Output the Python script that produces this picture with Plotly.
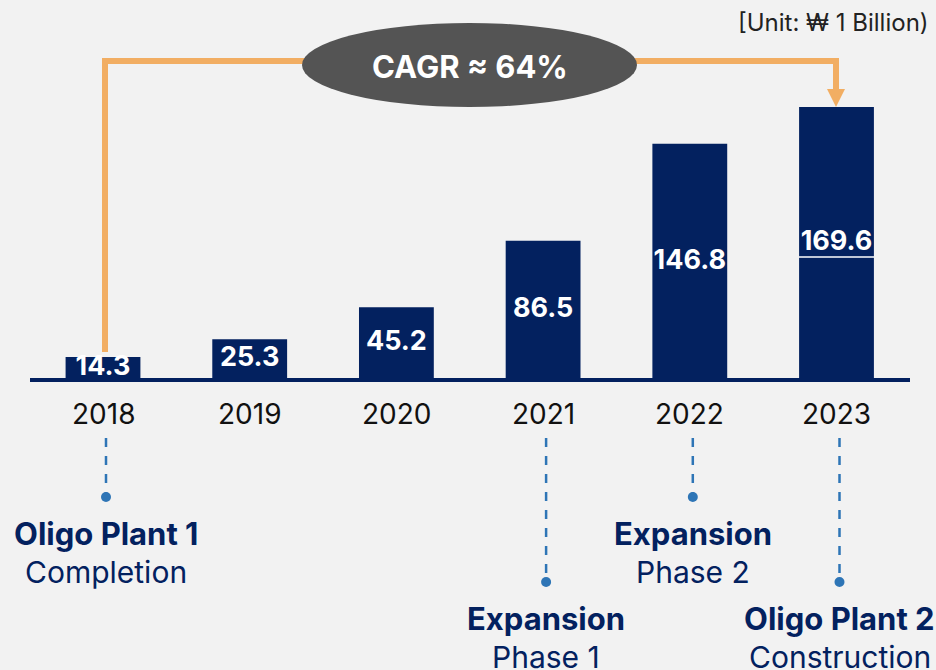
import plotly.graph_objects as go

# ---------------------------------------------------------------------------
# data
years = ["2018", "2019", "2020", "2021", "2022", "2023"]
sales = [14.3, 25.3, 45.2, 86.5, 146.8, 169.6]
cagr_label = "CAGR ≈ 64%"
unit_label = "[Unit: ₩ 1 Billion)"

milestone_year = ["2018", "2021", "2022", "2023"]
milestone_title = ["Oligo Plant 1", "Expansion", "Expansion", "Oligo Plant 2"]
milestone_sub = ["Completion", "Phase 1", "Phase 2", "Construction"]
milestone_row = [0, 1, 0, 1]   # 0 = upper row, 1 = lower row

# ---------------------------------------------------------------------------
W, H = 936, 670
NAVY = "#03215f"
ORANGE = "#f2ae63"
BLUE = "#2e75b6"
BG = "#f2f2f2"
FONT = "Inter"
STEP = 146.7   # pixels between two year slots

def px(x):   # pixel -> paper x
    return x / W

def py(y):   # pixel -> paper y
    return 1 - y / H

xs = list(range(len(years)))

fig = go.Figure()
fig.add_trace(go.Bar(
    x=xs, y=sales, width=0.51,
    marker=dict(color=NAVY, line=dict(width=0)),
    hoverinfo="skip",
))
# values in the middle of the bars
fig.add_trace(go.Scatter(
    x=xs, y=[v / 2 for v in sales], mode="text",
    text=[f"{v:.1f}" for v in sales],
    textfont=dict(family=FONT, size=27, color="white", weight="bold"),
    hoverinfo="skip",
))

shapes = []
# baseline
shapes.append(dict(type="line", xref="paper", yref="y", x0=px(30), x1=px(910), y0=0, y1=0,
                   line=dict(color=NAVY, width=4)))
# orange CAGR bracket
shapes.append(dict(type="path", xref="paper", yref="paper",
                   path=f"M {px(105)} {py(352)} L {px(105)} {py(61)} L {px(836)} {py(61)} L {px(836)} {py(92)}",
                   line=dict(color=ORANGE, width=6)))
shapes.append(dict(type="path", xref="paper", yref="paper",
                   path=f"M {px(827)} {py(89)} L {px(845)} {py(89)} L {px(836)} {py(107)} Z",
                   fillcolor=ORANGE, line=dict(width=0)))
shapes.append(dict(type="circle", xref="paper", yref="paper",
                   x0=px(302), x1=px(637), y0=py(107), y1=py(23),
                   fillcolor="#545454", line=dict(width=0)))
# thin white line across the 2023 bar
shapes.append(dict(type="line", xref="paper", yref="paper", x0=px(799), x1=px(874),
                   y0=py(257), y1=py(257), line=dict(color="white", width=1.5)))

def label(x, y, text, size, color, xref="x", xanchor="center"):
    return dict(x=x, y=y, xref=xref, yref="paper", text=text, showarrow=False,
                xanchor=xanchor, yanchor="middle",
                font=dict(family=FONT, size=size, color=color))

annotations = []
for i, yr in enumerate(years):
    annotations.append(label(i, py(414), yr, 28, "#111111"))

for yr, t, s, r in zip(milestone_year, milestone_title, milestone_sub, milestone_row):
    i = years.index(yr) + 3 / STEP
    dot_y = 497 if r == 0 else 582
    shapes.append(dict(type="line", xref="x", yref="paper", x0=i, x1=i,
                       y0=py(438), y1=py(dot_y - 4),
                       line=dict(color=BLUE, width=2.5, dash="dash")))
    shapes.append(dict(type="circle", xref="x", yref="paper",
                       x0=i - 5 / STEP, x1=i + 5 / STEP, y0=py(dot_y + 5), y1=py(dot_y - 5),
                       fillcolor=BLUE, line=dict(width=0)))
    annotations.append(label(i, py(dot_y + 36), f"<b>{t}</b>", 31, NAVY))
    annotations.append(label(i, py(dot_y + 75), s, 30, NAVY))

annotations.append(label(px(470), py(67), f"<b>{cagr_label}</b>", 31, "white", xref="paper"))
annotations.append(label(px(931), py(22), unit_label, 24, "#222222", xref="paper", xanchor="right"))

x0 = -103 / STEP
fig.update_layout(
    width=W, height=H,
    margin=dict(l=0, r=0, t=0, b=0),
    paper_bgcolor=BG, plot_bgcolor=BG,
    showlegend=False,
    xaxis=dict(range=[x0, x0 + W / STEP], visible=False, fixedrange=True),
    yaxis=dict(range=[(380 - H) / 1.61, 380 / 1.61], visible=False, fixedrange=True),
    shapes=shapes,
    annotations=annotations,
)

fig.write_html("out.html", config={"displayModeBar": False})

# drop the default page margin so the figure fills the window
with open("out.html", encoding="utf-8") as f:
    page = f.read()
page = page.replace("<head>", "<head><style>html,body{margin:0;padding:0;overflow:hidden;}</style>", 1)
with open("out.html", "w", encoding="utf-8") as f:
    f.write(page)
